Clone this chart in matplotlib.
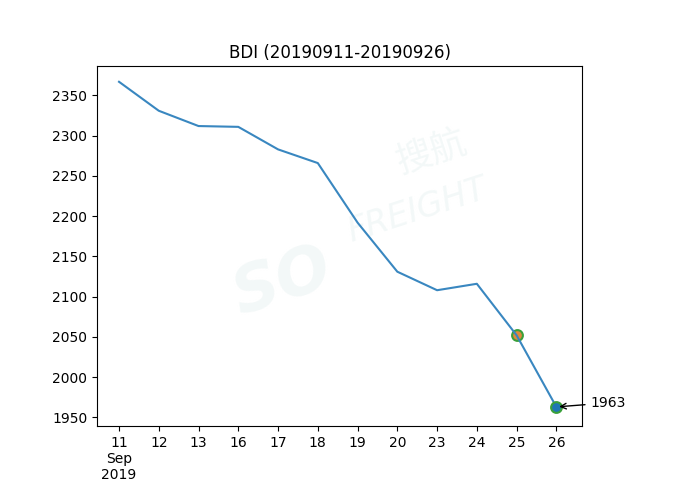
import numpy as np
import matplotlib.pyplot as plt

plt.rcParams['font.family'] = ['DejaVu Sans', 'Noto Sans CJK SC']

## BDI daily values, Sep 2019 (trading days only)
days = ['11', '12', '13', '16', '17', '18', '19', '20', '23', '24', '25', '26']
bdi = [2367, 2331, 2312, 2311, 2283, 2266, 2192, 2131, 2108, 2116, 2052, 1963]
tick_labels = ['11\nSep\n2019'] + days[1:]

x = np.arange(len(days))

fig = plt.figure(figsize=(6.89, 4.86), dpi=100)
ax = fig.add_axes([0.141, 0.123, 0.704, 0.741])

## faint watermark
wm = '#f3f8f8'
ax.text(0.38, 0.40, 'SO', transform=ax.transAxes, fontsize=46, fontweight='bold',
        fontstyle='italic', color=wm, rotation=18, ha='center', va='center', zorder=0)
ax.text(0.66, 0.60, 'FREIGHT', transform=ax.transAxes, fontsize=24, fontstyle='italic',
        color=wm, rotation=18, ha='center', va='center', zorder=0)
ax.text(0.69, 0.76, '搜航', transform=ax.transAxes, fontsize=26,
        family=['Noto Sans CJK SC', 'DejaVu Sans'],
        color=wm, rotation=18, ha='center', va='center', zorder=0)

ax.plot(x, bdi, color='#3987c0', zorder=2)
ax.scatter(x[-2], bdi[-2], s=60, color='#e08a3c', edgecolors='#3aa03a', linewidths=1.5, zorder=1)
ax.scatter(x[-1], bdi[-1], s=60, color='#1f77b4', edgecolors='#3aa03a', linewidths=1.5, zorder=3)

ax.annotate(str(bdi[-1]), xy=(x[-1], bdi[-1]), xytext=(x[-1] + 0.86, bdi[-1] + 5),
            ha='left', va='center', fontsize=10,
            arrowprops=dict(arrowstyle='->', color='black'))

ax.set_xticks(x)
ax.set_xticklabels(tick_labels)
ax.set_xlim(-0.55, 11.65)
ax.set_ylim(1939, 2386.5)
ax.set_title('BDI (20190911-20190926)')

plt.savefig('out.png')
